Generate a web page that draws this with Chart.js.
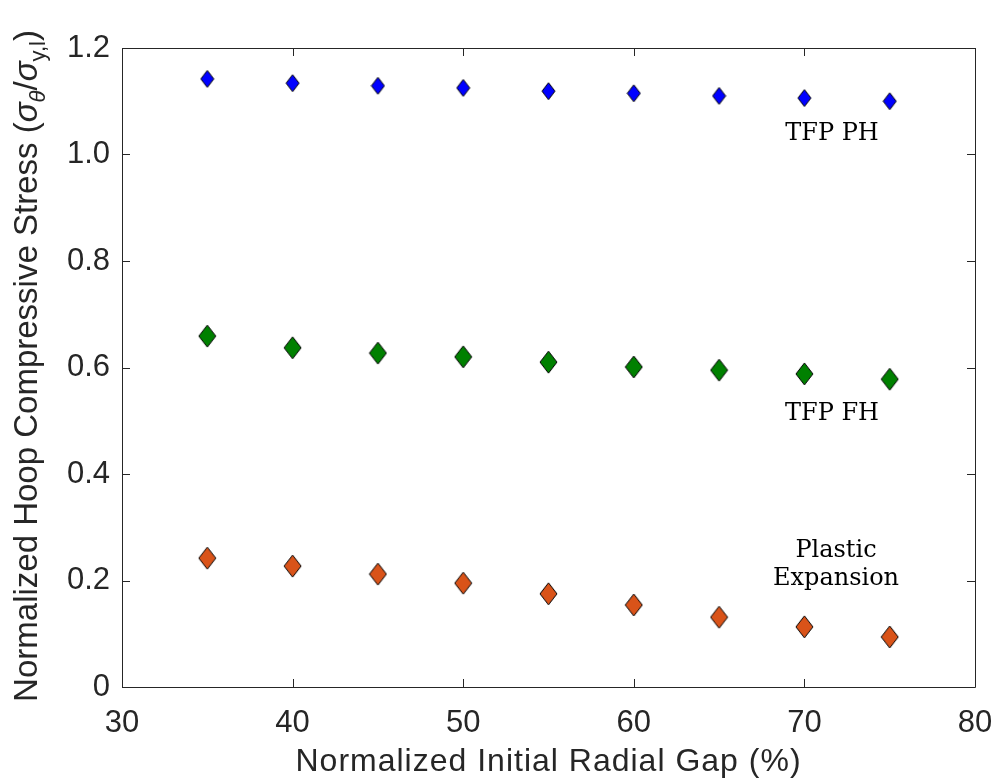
<!DOCTYPE html>
<html>
<head>
<meta charset="utf-8">
<script src="https://cdn.jsdelivr.net/npm/chart.js@4.4.1/dist/chart.umd.min.js"></script>
<style>
  html, body { margin: 0; padding: 0; background: #fff; }
  #wrap { width: 992px; height: 783px; }
</style>
</head>
<body>
<div id="wrap"><canvas id="c" width="992" height="783"></canvas></div>
<script>
// gap (%) on x, normalised hoop stress on y
const gaps = [35, 40, 45, 50, 55, 60, 65, 70, 75];
const tfpPH = [1.142, 1.134, 1.129, 1.125, 1.119, 1.115, 1.110, 1.106, 1.100];
const tfpFH = [0.659, 0.637, 0.627, 0.620, 0.610, 0.601, 0.595, 0.588, 0.578];
const plasticExp = [0.242, 0.227, 0.212, 0.195, 0.175, 0.154, 0.131, 0.113, 0.094];
const xTicks = [30, 40, 50, 60, 70, 80];
const yTicks = [0, 0.2, 0.4, 0.6, 0.8, 1.0, 1.2];

const INK = '#262626';
const SANS = '"Liberation Sans", Arial, sans-serif';
const SERIF = '"DejaVu Serif", "Liberation Serif", serif';

// tall diamond marker drawn once per colour
function diamond(fill, w, h) {
  const cv = document.createElement('canvas');
  cv.width = w + 2; cv.height = h + 2;
  const g = cv.getContext('2d');
  const cx = cv.width / 2, cy = cv.height / 2;
  g.beginPath();
  g.moveTo(cx, 1); g.lineTo(cv.width - 1, cy); g.lineTo(cx, cv.height - 1); g.lineTo(1, cy);
  g.closePath();
  g.fillStyle = fill; g.fill();
  g.lineWidth = 1; g.strokeStyle = '#000'; g.stroke();
  return cv;
}

const pts = ys => gaps.map((x, i) => ({ x, y: ys[i] }));

// box with inward ticks on all four sides, plus titles and text labels
const frame = {
  id: 'frame',
  afterDraw(chart) {
    const { ctx, chartArea: a, scales: { x, y } } = chart;
    ctx.save();
    ctx.strokeStyle = INK; ctx.lineWidth = 1;
    ctx.beginPath();
    ctx.rect(a.left + 0.5, a.top + 0.5, a.right - a.left, a.bottom - a.top);
    const L = 8;
    xTicks.forEach(v => {
      const px = Math.round(x.getPixelForValue(v)) + 0.5;
      ctx.moveTo(px, a.bottom); ctx.lineTo(px, a.bottom - L);
      ctx.moveTo(px, a.top); ctx.lineTo(px, a.top + L);
    });
    yTicks.forEach(v => {
      const py = Math.round(y.getPixelForValue(v)) + 0.5;
      ctx.moveTo(a.left, py); ctx.lineTo(a.left + L, py);
      ctx.moveTo(a.right, py); ctx.lineTo(a.right - L, py);
    });
    ctx.stroke();

    // series labels
    ctx.fillStyle = '#000';
    ctx.font = '24px ' + SERIF;
    ctx.textAlign = 'center'; ctx.textBaseline = 'middle';
    ctx.fillText('TFP PH', 832, 134);
    ctx.fillText('TFP FH', 832, 414);
    ctx.fillText('Plastic', 836, 551);
    ctx.fillText('Expansion', 836, 579);

    // x-axis title
    ctx.fillStyle = INK;
    ctx.font = '32px ' + SANS;
    ctx.letterSpacing = '1px';
    ctx.fillText('Normalized Initial Radial Gap (%)', (a.left + a.right) / 2, 762);
    ctx.letterSpacing = '0px';

    // y-axis title with subscripts
    ctx.save();
    ctx.translate(37, 366);
    ctx.rotate(-Math.PI / 2);
    ctx.textBaseline = 'alphabetic';
    ctx.textAlign = 'left';
    const big = '33px ' + SANS, bigI = 'italic 33px ' + SANS, sub = 'italic 22px ' + SANS, subN = '22px ' + SANS;
    const parts = [
      [big, 'Normalized Hoop Compressive Stress (', 0],
      [bigI, 'σ', 0], [sub, 'θ', 8],
      [big, '/', 0],
      [bigI, 'σ', 0], [subN, 'y,l', 8],
      [big, ')', 0]
    ];
    let total = 0;
    parts.forEach(p => { ctx.font = p[0]; total += ctx.measureText(p[1]).width; });
    let cx = -total / 2;
    parts.forEach(p => {
      ctx.font = p[0];
      ctx.fillText(p[1], cx, p[2]);
      cx += ctx.measureText(p[1]).width;
    });
    ctx.restore();
    ctx.restore();
  }
};

new Chart(document.getElementById('c'), {
  type: 'scatter',
  data: {
    datasets: [
      { label: 'TFP PH', data: pts(tfpPH), pointStyle: diamond('#0000ff', 13, 17) },
      { label: 'TFP FH', data: pts(tfpFH), pointStyle: diamond('#008000', 17, 22) },
      { label: 'Plastic Expansion', data: pts(plasticExp), pointStyle: diamond('#d95319', 17, 22) }
    ]
  },
  options: {
    responsive: false,
    animation: false,
    layout: { padding: { top: 48, right: 17, left: 0, bottom: 0 } },
    plugins: { legend: { display: false }, tooltip: { enabled: false } },
    scales: {
      x: {
        type: 'linear', min: 30, max: 80,
        afterBuildTicks: s => { s.ticks = xTicks.map(v => ({ value: v })); },
        afterFit: s => { s.height = 96; s.paddingLeft = 0; s.paddingRight = 0; },
        grid: { display: false, drawTicks: false },
        border: { display: false },
        ticks: { color: INK, font: { family: SANS, size: 31 }, padding: 18, maxRotation: 0 }
      },
      y: {
        type: 'linear', min: 0, max: 1.2,
        afterBuildTicks: s => { s.ticks = yTicks.map(v => ({ value: v })); },
        afterFit: s => { s.width = 122; s.paddingTop = 0; s.paddingBottom = 0; },
        grid: { display: false, drawTicks: false },
        border: { display: false },
        ticks: { color: INK, font: { family: SANS, size: 31 }, padding: 12, callback: v => v === 0 ? '0' : v.toFixed(1) }
      }
    }
  },
  plugins: [frame]
});
</script>
</body>
</html>
